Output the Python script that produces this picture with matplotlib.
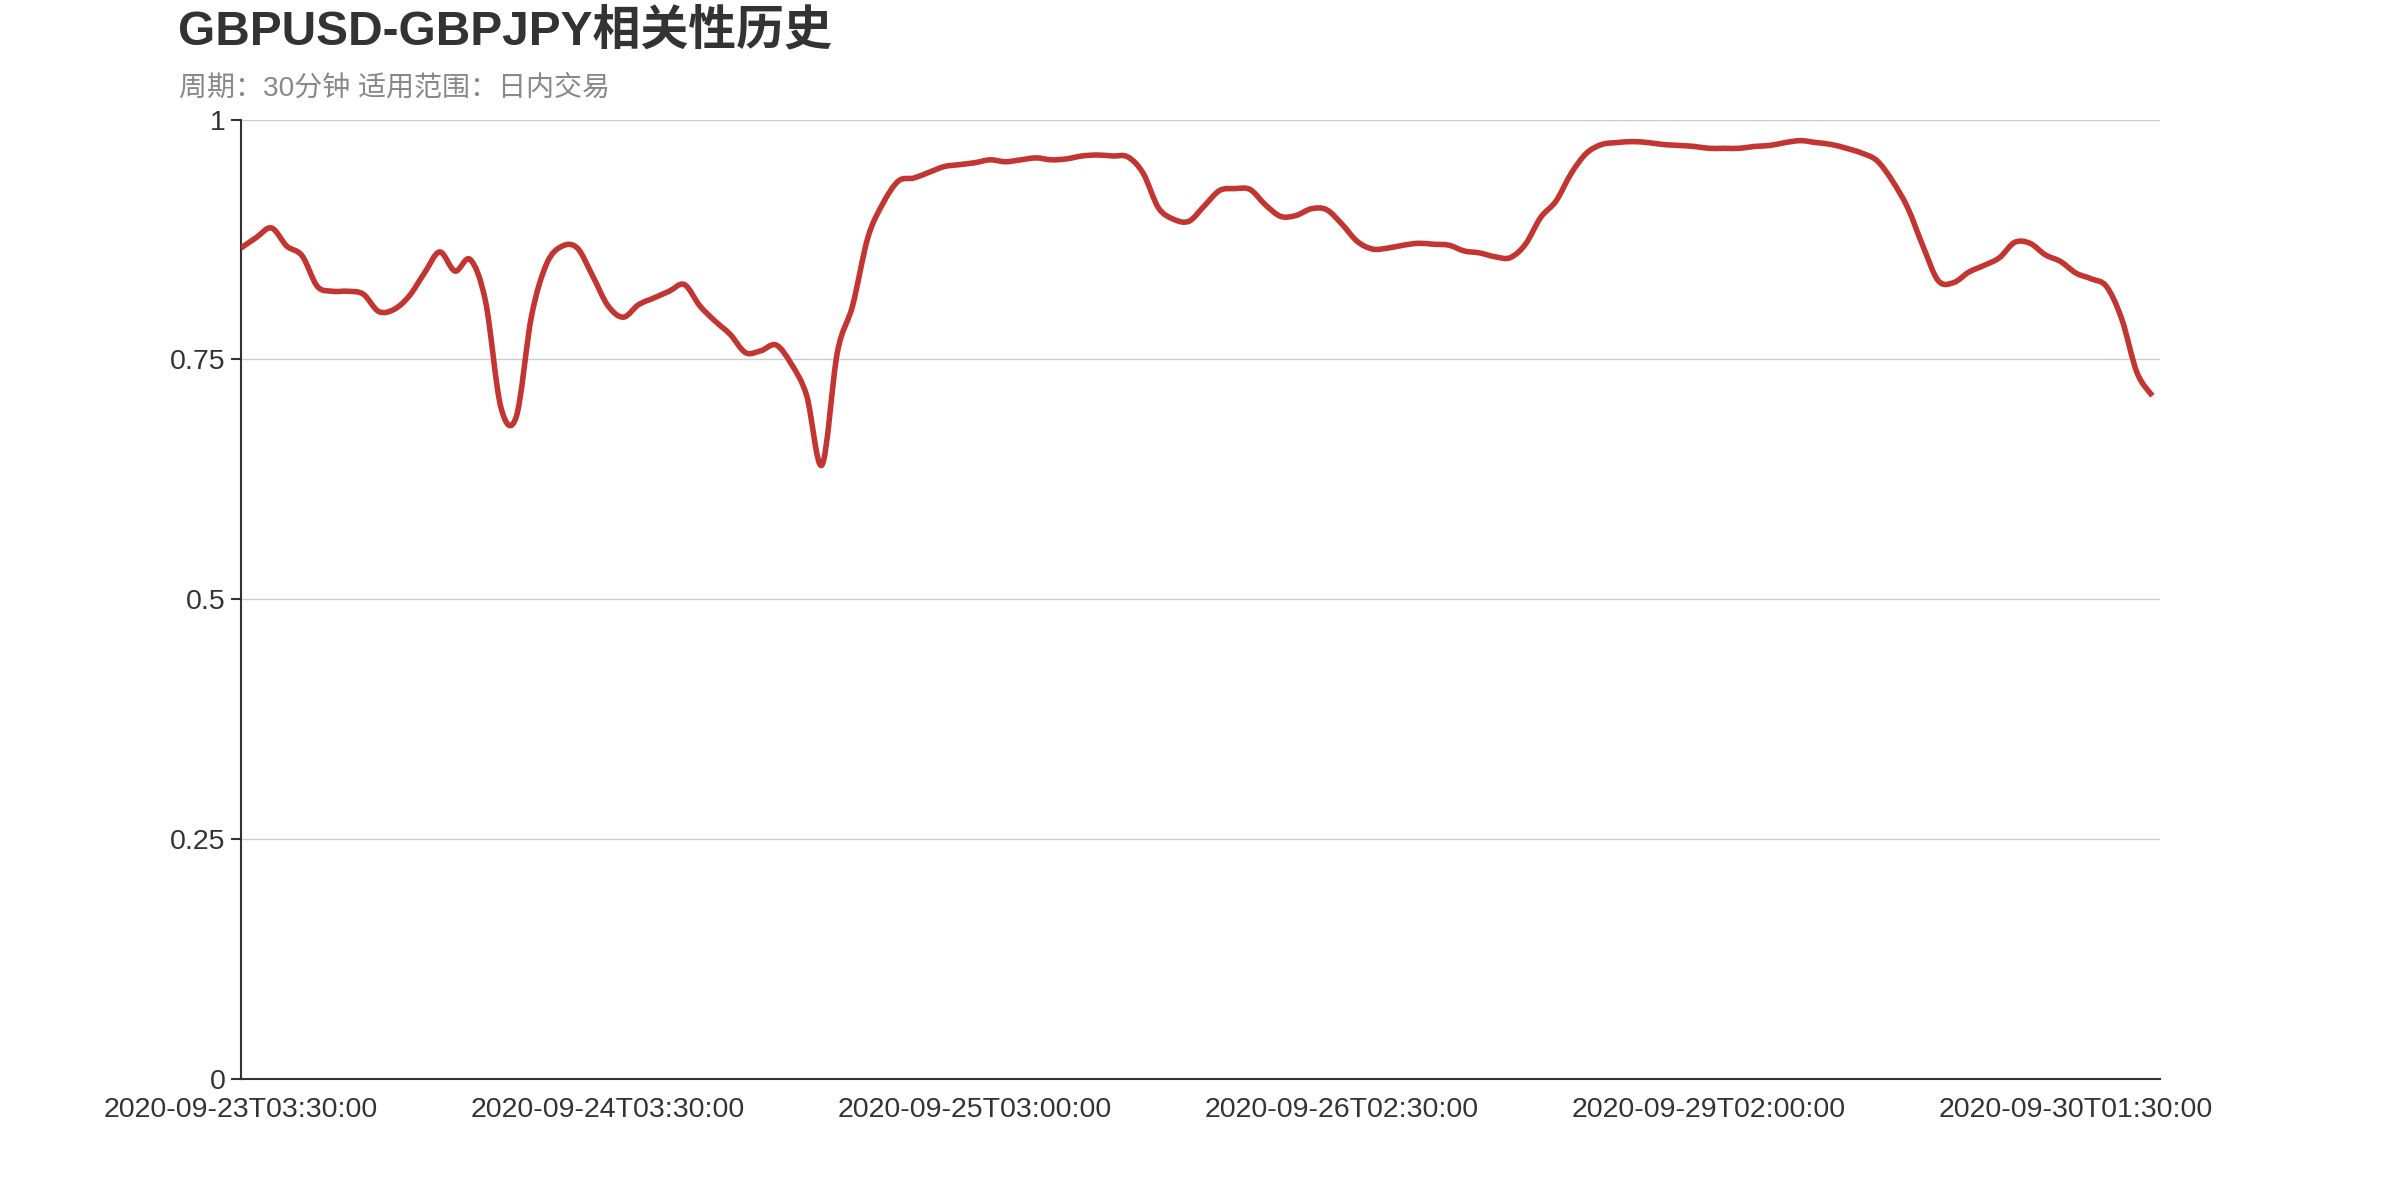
import matplotlib
matplotlib.use("Agg")
import matplotlib.pyplot as plt
from matplotlib.path import Path
from matplotlib.patches import PathPatch
import numpy as np

plt.rcParams['font.family'] = ['Liberation Sans', 'Noto Sans CJK SC', 'DejaVu Sans']

title = "GBPUSD-GBPJPY相关性历史"
subtitle = "周期：30分钟 适用范围：日内交易"

# correlation, one value per hour
corr = [
    0.866, 0.877, 0.887, 0.868, 0.858, 0.826, 0.821, 0.821, 0.818, 0.800,
    0.802, 0.816, 0.840, 0.862, 0.842, 0.854, 0.810, 0.700, 0.690, 0.795,
    0.850, 0.868, 0.866, 0.837, 0.806, 0.794, 0.807, 0.814, 0.821, 0.828,
    0.806, 0.790, 0.776, 0.757, 0.759, 0.765, 0.745, 0.712, 0.640, 0.757,
    0.806, 0.877, 0.913, 0.936, 0.939, 0.945, 0.951, 0.953, 0.955, 0.958,
    0.956, 0.958, 0.960, 0.958, 0.959, 0.962, 0.963, 0.962, 0.961, 0.944,
    0.908, 0.896, 0.894, 0.910, 0.926, 0.928, 0.927, 0.911, 0.899, 0.900,
    0.907, 0.906, 0.891, 0.873, 0.865, 0.866, 0.869, 0.871, 0.870, 0.869,
    0.863, 0.861, 0.857, 0.856, 0.870, 0.898, 0.915, 0.944, 0.965, 0.974,
    0.976, 0.977, 0.976, 0.974, 0.973, 0.972, 0.970, 0.970, 0.970, 0.972,
    0.973, 0.976, 0.978, 0.976, 0.974, 0.970, 0.965, 0.957, 0.936, 0.908,
    0.868, 0.832, 0.830, 0.841, 0.848, 0.856, 0.872, 0.871, 0.859, 0.852,
    0.840, 0.834, 0.826, 0.792, 0.736, 0.712,
]
x_labels = ["2020-09-23T03:30:00", "2020-09-24T03:30:00", "2020-09-25T03:00:00",
            "2020-09-26T02:30:00", "2020-09-29T02:00:00", "2020-09-30T01:30:00"]
x_label_pos = [0, 24, 48, 72, 96, 120]
y_ticks = [0, 0.25, 0.5, 0.75, 1]
y_labels = ["0", "0.25", "0.5", "0.75", "1"]


def smooth_path(xs, ys):
    # cubic bezier through every point (catmull-rom style), like a smoothed line
    pts = np.column_stack([xs, ys])
    n = len(pts)
    verts = [pts[0]]
    codes = [Path.MOVETO]
    for i in range(n - 1):
        p0 = pts[max(i - 1, 0)]
        p1 = pts[i]
        p2 = pts[i + 1]
        p3 = pts[min(i + 2, n - 1)]
        verts += [p1 + (p2 - p0) / 6, p2 - (p3 - p1) / 6, p2]
        codes += [Path.CURVE4] * 3
    return Path(verts, codes)


fig = plt.figure(figsize=(24, 12), dpi=100)
ax = fig.add_axes([0.1004, 0.1008, 0.7996, 0.7996])

x = np.arange(len(corr))
line = PathPatch(smooth_path(x, np.array(corr)), facecolor="none", edgecolor="#c23531",
                 lw=4, joinstyle="round", capstyle="butt", zorder=3)
ax.add_patch(line)

ax.set_xlim(0, len(corr) - 0.5)
ax.set_ylim(0, 1)
ax.set_yticks(y_ticks)
ax.set_yticklabels(y_labels)
ax.set_xticks(x_label_pos)
ax.set_xticklabels(x_labels)
ax.grid(axis="y", color="#cccccc", lw=1)
ax.set_axisbelow(True)

for s in ["top", "right"]:
    ax.spines[s].set_visible(False)
for s in ["left", "bottom"]:
    ax.spines[s].set_color("#333333")
    ax.spines[s].set_linewidth(1.5)

ax.tick_params(axis="y", length=7, width=1.5, color="#333333", pad=4,
               labelsize=20.5, labelcolor="#333333")
ax.tick_params(axis="x", length=0, pad=13, labelsize=20.5, labelcolor="#333333")

fig.text(0.074, 0.974, title, fontsize=34.5, fontweight="bold", color="#333333",
         va="center", ha="left")
fig.text(0.0745, 0.926, subtitle, fontsize=20.2, color="#888888", va="center", ha="left")

fig.savefig("out.png", dpi=100, facecolor="white")
